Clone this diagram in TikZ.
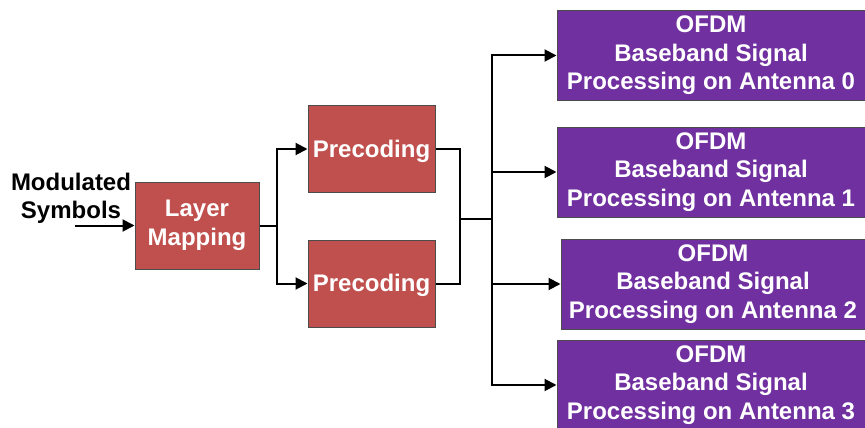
\documentclass[tikz,border=0pt]{standalone}
\usepackage{fontspec}
\setmainfont{Liberation Sans}
\usetikzlibrary{arrows.meta}
\definecolor{boxred}{HTML}{C0504D}
\definecolor{boxpurple}{HTML}{7030A0}
\begin{document}
\begin{tikzpicture}[x=1pt,y=-1pt,
  blk/.style={draw=black!70, line width=1pt, text=white, align=center, inner sep=0pt,
    font=\bfseries\fontsize{24}{28.5}\selectfont,
    execute at begin node={\rule{0pt}{22pt}}},
  redbox/.style={blk, fill=boxred},
  purplebox/.style={blk, fill=boxpurple, minimum width=308pt, minimum height=90pt},
  conn/.style={line width=2pt, black},
  arr/.style={conn, -{Triangle[length=12pt,width=12pt]}}]
\useasboundingbox (0,0) rectangle (865,428);

\node[font=\bfseries\fontsize{24}{28}\selectfont, align=center, inner sep=0pt] (lbl) at (71,198.5) {Modulated\\Symbols};

\node[redbox, minimum width=124pt, minimum height=87pt] (lm) at (197,225.5) {Layer\\Mapping};
\node[redbox, minimum width=127pt, minimum height=87pt] (pc1) at (371.5,149) {Precoding};
\node[redbox, minimum width=127pt, minimum height=87pt] (pc2) at (371.5,283.5) {Precoding};

\node[purplebox] (o0) at (711,55.5) {OFDM\\Baseband Signal\\Processing on Antenna 0};
\node[purplebox] (o1) at (711,172) {OFDM\\Baseband Signal\\Processing on Antenna 1};
\node[purplebox, minimum width=304pt] (o2) at (713,284) {OFDM\\Baseband Signal\\Processing on Antenna 2};
\node[purplebox] (o3) at (711,385) {OFDM\\Baseband Signal\\Processing on Antenna 3};

\coordinate (in) at (75,225.5);
\coordinate (s1) at (277,225.5);
\coordinate (m) at (460,219);
\coordinate (b) at (492,219);

\draw[arr] (in) -- (lm.west);
\draw[conn] (lm.east) -- (s1);
\draw[arr] (s1) |- (pc1.west);
\draw[arr] (s1) |- (pc2.west);
\draw[conn] (pc1.east) -| (m);
\draw[conn] (pc2.east) -| (m);
\draw[conn] (m) -- (b);
\draw[arr] (b) |- (o0.west);
\draw[arr] (b) |- (o1.west);
\draw[arr] (b) |- (o2.west);
\draw[arr] (b) |- (o3.west);
\end{tikzpicture}
\end{document}
